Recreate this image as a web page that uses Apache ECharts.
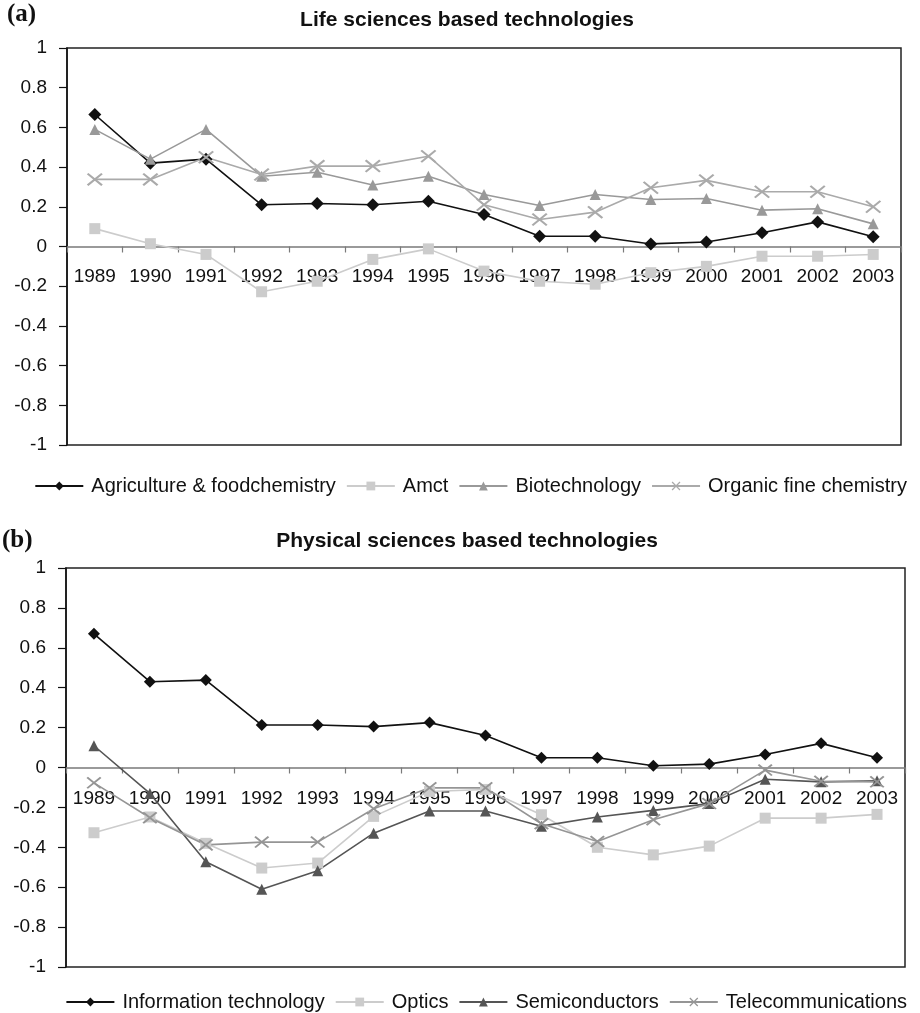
<!DOCTYPE html>
<html>
<head>
<meta charset="utf-8">
<script src="https://cdn.jsdelivr.net/npm/echarts@6/dist/echarts.min.js"></script>
<style>
  html, body { margin: 0; padding: 0; background: #fff; }
  #chart { width: 920px; height: 1013px; }
</style>
</head>
<body>
<div id="chart"></div>
<script>
// Years on the category axis (shared by both panels)
const years = ['1989','1990','1991','1992','1993','1994','1995','1996','1997','1998','1999','2000','2001','2002','2003'];

// Panel (a): life sciences based technologies
const lifeNames = ['Agriculture & foodchemistry', 'Amct', 'Biotechnology', 'Organic fine chemistry'];
const agriculture = [0.665, 0.42, 0.44, 0.21, 0.217, 0.21, 0.228, 0.161, 0.052, 0.052, 0.013, 0.023, 0.069, 0.124, 0.049];
const amct        = [0.09, 0.014, -0.04, -0.228, -0.175, -0.065, -0.012, -0.124, -0.175, -0.19, -0.132, -0.10, -0.049, -0.049, -0.04];
const biotech     = [0.59, 0.44, 0.59, 0.354, 0.374, 0.31, 0.354, 0.262, 0.207, 0.262, 0.237, 0.242, 0.183, 0.19, 0.114];
const organic     = [0.338, 0.338, 0.45, 0.363, 0.405, 0.405, 0.455, 0.21, 0.136, 0.173, 0.296, 0.333, 0.276, 0.276, 0.20];

// Panel (b): physical sciences based technologies
const physNames = ['Information technology', 'Optics', 'Semiconductors', 'Telecommunications'];
const infoTech    = [0.67, 0.43, 0.438, 0.213, 0.213, 0.205, 0.225, 0.16, 0.049, 0.049, 0.009, 0.017, 0.065, 0.121, 0.049];
const optics      = [-0.327, -0.248, -0.38, -0.504, -0.479, -0.245, -0.12, -0.11, -0.237, -0.40, -0.438, -0.394, -0.254, -0.254, -0.235];
const semis       = [0.109, -0.13, -0.472, -0.61, -0.517, -0.329, -0.218, -0.218, -0.294, -0.248, -0.215, -0.181, -0.059, -0.072, -0.067];
const telecom     = [-0.077, -0.252, -0.388, -0.374, -0.374, -0.207, -0.102, -0.102, -0.282, -0.371, -0.262, -0.181, -0.013, -0.069, -0.072];

// Panel headings
const panelTitles = ['Life sciences based technologies', 'Physical sciences based technologies'];
const panelTags = ['(a)', '(b)'];

const FONT = 'Liberation Sans, Arial, sans-serif';
const CROSS = 'path://M0,1 L1,0 L10,9 L9,10 Z M9,0 L10,1 L1,10 L0,9 Z';

// The category axis crosses at y = 0; ECharts keeps its labels at the grid
// edge, so a negative margin lifts them up to sit just under the zero line.
function xAxisFor(gridIndex) {
  return {
    type: 'category',
    gridIndex,
    data: years,
    boundaryGap: true,
    axisLine: { onZero: true, lineStyle: { color: '#7a7a7a', width: 1.5 } },
    axisTick: { show: true, length: 6, lineStyle: { color: '#7a7a7a', width: 1.2 } },
    axisLabel: { color: '#111', fontFamily: FONT, fontSize: 19, margin: -178 },
    splitLine: { show: false }
  };
}

function yAxisFor(gridIndex) {
  return {
    type: 'value',
    gridIndex,
    min: -1,
    max: 1,
    interval: 0.2,
    axisLine: { show: true, lineStyle: { color: '#111', width: 1.5 } },
    axisTick: { show: true, length: 8, lineStyle: { color: '#111', width: 1.2 } },
    axisLabel: {
      color: '#111', fontFamily: FONT, fontSize: 19, margin: 20,
      formatter: v => String(Math.round(v * 10) / 10)
    },
    splitLine: { show: false }
  };
}

function lineSeries(name, data, idx, color, symbol, size, lineColor) {
  return {
    name, type: 'line', data,
    xAxisIndex: idx, yAxisIndex: idx,
    symbol, symbolSize: size,
    showAllSymbol: true,
    itemStyle: { color },
    lineStyle: { color: lineColor || color, width: 1.6 },
    emphasis: { disabled: true },
    animation: false
  };
}

function legendFor(names, top) {
  return {
    data: names, right: 8, top, itemWidth: 48, itemHeight: 11, itemGap: 10,
    textStyle: { color: '#111', fontFamily: FONT, fontSize: 20, padding: [0, 0, 0, 3] }
  };
}

const chart = echarts.init(document.getElementById('chart'), null, { renderer: 'canvas' });

chart.setOption({
  backgroundColor: '#fff',
  animation: false,
  textStyle: { fontFamily: FONT },
  grid: [
    { left: 67, right: 19, top: 48, bottom: 568, show: true, borderColor: '#222', borderWidth: 1.5, containLabel: false },
    { left: 66, right: 15, top: 568, bottom: 46, show: true, borderColor: '#222', borderWidth: 1.5, containLabel: false }
  ],
  xAxis: [xAxisFor(0), xAxisFor(1)],
  yAxis: [yAxisFor(0), yAxisFor(1)],
  legend: [legendFor(lifeNames, 471), legendFor(physNames, 987)],
  graphic: [
    { type: 'text', left: 7, top: 2, style: { text: panelTags[0], font: 'bold 25px "Liberation Serif", "Times New Roman", serif', fill: '#111' } },
    { type: 'text', x: 467, y: 20, style: { text: panelTitles[0], font: 'bold 21px ' + FONT, fill: '#111', textAlign: 'center', textVerticalAlign: 'middle' } },
    { type: 'text', left: 2, top: 528, style: { text: panelTags[1], font: 'bold 25px "Liberation Serif", "Times New Roman", serif', fill: '#111' } },
    { type: 'text', x: 467, y: 541, style: { text: panelTitles[1], font: 'bold 21px ' + FONT, fill: '#111', textAlign: 'center', textVerticalAlign: 'middle' } }
  ],
  series: [
    lineSeries(lifeNames[0], agriculture, 0, '#111111', 'diamond', 13),
    lineSeries(lifeNames[1], amct, 0, '#cccccc', 'rect', 11),
    lineSeries(lifeNames[2], biotech, 0, '#999999', 'triangle', 11),
    lineSeries(lifeNames[3], organic, 0, '#aaaaaa', CROSS, [16, 13]),
    lineSeries(physNames[0], infoTech, 1, '#111111', 'diamond', 12),
    lineSeries(physNames[1], optics, 1, '#cccccc', 'rect', 11),
    lineSeries(physNames[2], semis, 1, '#555555', 'triangle', 11),
    lineSeries(physNames[3], telecom, 1, '#959595', CROSS, [15, 12])
  ]
});
</script>
</body>
</html>
